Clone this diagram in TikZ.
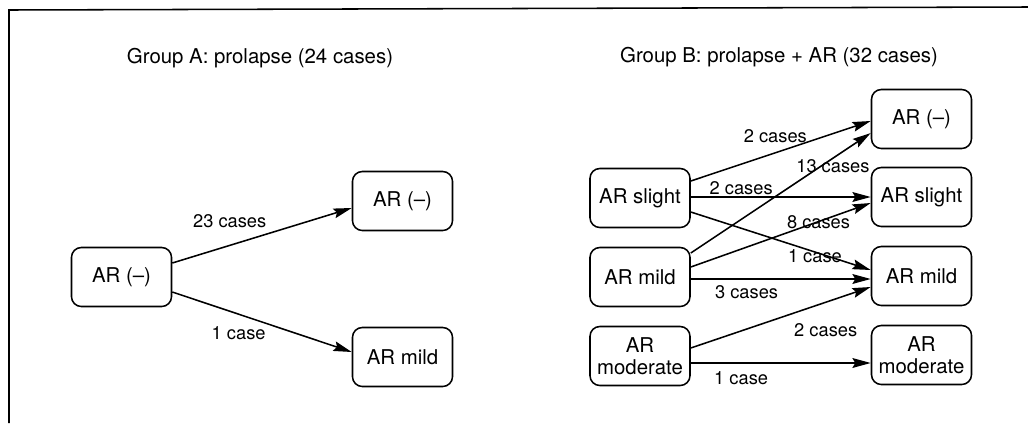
\documentclass[tikz,border=0pt]{standalone}
\usepackage{fontspec}
\setmainfont{TeX Gyre Heros}
\usetikzlibrary{arrows.meta,calc}

\tikzset{
  state/.style={draw, line width=1.1pt, rounded corners=7pt, minimum width=2.5cm,
    minimum height=1.475cm, align=center, inner sep=2pt,
    font=\fontsize{14.5}{15.5}\selectfont},
  count/.style={font=\fontsize{13}{15}\selectfont, inner sep=0pt},
  title/.style={font=\fontsize{14.5}{16}\selectfont},
  flow/.style={line width=1.1pt, -{Stealth[length=13pt,width=7pt,inset=2pt]}},
}

\begin{document}
\begin{tikzpicture}[x=0.025cm, y=-0.025cm]
    \useasboundingbox (0,0) rectangle (1028,423);
    % Frame
    \draw[line width=1.1pt] (9,423) -- (9,10) -- (1028,7);

    % Group A
    \node[title] (titleA) at (260,58) {Group A: prolapse (24 cases)};
    \node[state] (aNone) at (121.5,277) {AR (--)};
    \node[state] (aNoneT) at (402.5,201) {AR (--)};
    \node[state] (aMildT) at (402.5,357) {AR mild};
    \draw[flow] ($(aNone.east)+(0,-14)$) -- node[count, pos=.32, yshift=17.4pt] {23 cases} ($(aNoneT.west)+(0,7)$);
    \draw[flow] ($(aNone.east)+(0,15)$) -- node[count, pos=.37, yshift=-13.5pt] {1 case} ($(aMildT.west)+(0,-5)$);

    % Group B
    \node[title] (titleB) at (779,57) {Group B: prolapse + AR (32 cases)};
    \node[state] (bSlight) at (640,198) {AR slight};
    \node[state] (bMild) at (640,277) {AR mild};
    \node[state] (bModerate) at (640,356) {AR\\moderate};
    \node[state] (bNoneT) at (921.5,119) {AR (--)};
    \node[state] (bSlightT) at (921.5,197) {AR slight};
    \node[state] (bMildT) at (921.5,276) {AR mild};
    \node[state] (bModerateT) at (921.5,355) {AR\\moderate};

    % Transitions
    \draw[flow] ($(bSlight.east)+(0,-17)$) -- node[count, pos=.47, yshift=12.1pt] {2 cases} ($(bNoneT.west)+(0,2)$);
    \draw[flow] ($(bMild.east)+(0,-24)$) -- node[count, pos=.79, yshift=-5.3pt] {13 cases} ($(bNoneT.west)+(0,14)$);
    \draw[flow] ($(bSlight.east)+(0,-1)$) -- node[count, pos=.28, yshift=6.4pt] {2 cases} (bSlightT.west);
    \draw[flow] ($(bMild.east)+(0,-10)$) -- node[count, pos=.71, yshift=-0.7pt] {8 cases} ($(bSlightT.west)+(0,6)$);
    \draw[flow] ($(bSlight.east)+(0,14)$) -- node[count, pos=.69, yshift=-2.8pt] {1 case} ($(bMildT.west)+(0,-6)$);
    \draw[flow] ($(bMild.east)+(0,2)$) -- node[count, pos=.31, yshift=-9.2pt] {3 cases} ($(bMildT.west)+(0,3)$);
    \draw[flow] ($(bModerate.east)+(0,-8)$) -- node[count, pos=.75, yshift=-20pt] {2 cases} ($(bMildT.west)+(0,11)$);
    \draw[flow] ($(bModerate.east)+(0,7)$) -- node[count, pos=.28, yshift=-10.7pt] {1 case} ($(bModerateT.west)+(0,8)$);
\end{tikzpicture}
\end{document}
